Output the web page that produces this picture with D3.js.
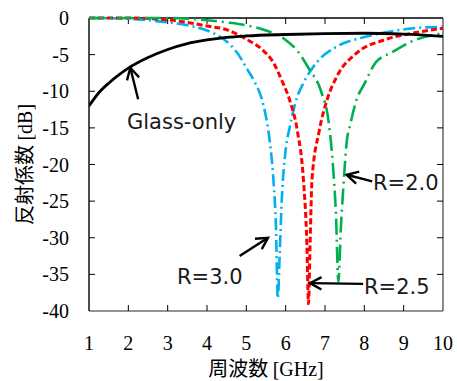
<!DOCTYPE html>
<html>
<head>
<meta charset="utf-8">
<script src="https://cdn.jsdelivr.net/npm/d3@7"></script>
<style>
  body { margin: 0; background: #fff; }
  svg { display: block; }
</style>
</head>
<body>
<svg id="chart" width="457" height="381"></svg>
<script>
const width = 457;
const height = 381;
const margin = { left: 89, right: 14, top: 18, bottom: 70 };

// frequency [GHz] / reflection [dB]
const glassFreq = [1, 1.25, 1.5, 1.75, 2, 2.5, 3, 3.5, 4, 4.5, 5, 6, 7, 8, 9, 10];
const glassDb = [-12, -10.2, -8.9, -7.8, -6.85, -5.4, -4.3, -3.5, -3.0, -2.65, -2.45, -2.25, -2.12, -2.08, -2.2, -2.5];

const r30Freq = [1, 2, 2.5, 3, 3.5, 4, 4.4, 4.6, 4.8, 5.0, 5.2, 5.4, 5.5, 5.6, 5.7, 5.75, 5.8, 5.85, 5.9, 6.0, 6.1, 6.28, 6.45, 6.8, 7.3, 8, 8.6, 9.25, 10];
const r30Db = [0, -0.1, -0.3, -0.6, -1.0, -1.7, -2.8, -3.7, -5, -6.8, -8.6, -11.2, -13.5, -17, -23, -28, -38.3, -32, -25, -18, -15, -11, -8.9, -6, -3.9, -2.6, -1.9, -1.4, -1.2];

const r25Freq = [1, 2, 3, 3.5, 4, 4.5, 5, 5.4, 5.7, 5.9, 6.1, 6.3, 6.45, 6.54, 6.58, 6.62, 6.67, 6.85, 7.05, 7.3, 7.8, 8.5, 9.2, 10];
const r25Db = [0, 0, -0.25, -0.6, -1.1, -1.6, -2.9, -4.3, -6.2, -8.5, -11.2, -15.5, -22, -31, -39, -31, -22, -15.5, -11.2, -8, -4.8, -3, -2.1, -1.4];

const r20Freq = [1, 3, 3.5, 4, 4.5, 5, 5.5, 6, 6.3, 6.6, 6.9, 7.1, 7.2, 7.28, 7.34, 7.4, 7.48, 7.55, 7.64, 7.8, 8, 8.3, 8.7, 9.2, 10];
const r20Db = [0, 0, -0.1, -0.3, -0.6, -1.0, -1.7, -3, -4.5, -7, -10, -14.5, -20, -27, -36, -29, -22, -17, -14.6, -11.2, -9, -6, -4.7, -3.2, -2.1];

const xTicks = [1, 2, 3, 4, 5, 6, 7, 8, 9, 10];
const yTicks = [0, -5, -10, -15, -20, -25, -30, -35, -40];

const series = [
    { f: r30Freq, v: r30Db, color: "#00b0f0", dash: "12,4,2,4", w: 2.6 },
    { f: r25Freq, v: r25Db, color: "#ff0000", dash: "6,3", w: 3 },
    { f: r20Freq, v: r20Db, color: "#00b050", dash: "16,5,2,5", w: 2.6 },
    { f: glassFreq, v: glassDb, color: "#000000", dash: null, w: 2.8 }
];

const svg = d3.select("#chart");

const x = d3.scaleLinear().domain([1, 10]).range([margin.left, width - margin.right]);
const y = d3.scaleLinear().domain([-40, 0]).range([height - margin.bottom, margin.top]);

const serif = "'Liberation Serif', 'Times New Roman', serif";
const gothic = "'Noto Sans CJK JP', sans-serif";
const label = "'DejaVu Sans', sans-serif";

svg.append("defs").append("clipPath")
    .attr("id", "plot-clip")
    .append("rect")
    .attr("x", margin.left)
    .attr("y", margin.top - 2)
    .attr("width", width - margin.left - margin.right)
    .attr("height", height - margin.top - margin.bottom + 2);

// frame: left/top black, bottom/right grey
const x0 = x(1), x1 = x(10), y0 = y(0), y1 = y(-40);
svg.append("line").attr("x1", x0).attr("x2", x1).attr("y1", y1).attr("y2", y1)
    .attr("stroke", "#6e6e6e").attr("stroke-width", 1.6);
svg.append("line").attr("x1", x1).attr("x2", x1).attr("y1", y0).attr("y2", y1)
    .attr("stroke", "#6e6e6e").attr("stroke-width", 1.6);
svg.append("line").attr("x1", x0).attr("x2", x1).attr("y1", y0).attr("y2", y0)
    .attr("stroke", "#000").attr("stroke-width", 1.4);
svg.append("line").attr("x1", x0).attr("x2", x0).attr("y1", y0).attr("y2", y1)
    .attr("stroke", "#000").attr("stroke-width", 1.4);

// inward ticks on all four sides
const tickLen = 6;
const innerX = xTicks.slice(1, -1);
const innerY = yTicks.slice(1, -1);
svg.append("g").selectAll("line").data(innerX).join("line")
    .attr("x1", d => x(d)).attr("x2", d => x(d))
    .attr("y1", y1).attr("y2", y1 - tickLen)
    .attr("stroke", "#000").attr("stroke-width", 1);
svg.append("g").selectAll("line").data(innerX).join("line")
    .attr("x1", d => x(d)).attr("x2", d => x(d))
    .attr("y1", y0).attr("y2", y0 + tickLen)
    .attr("stroke", "#000").attr("stroke-width", 1);
svg.append("g").selectAll("line").data(innerY).join("line")
    .attr("x1", x0).attr("x2", x0 + tickLen)
    .attr("y1", d => y(d)).attr("y2", d => y(d))
    .attr("stroke", "#000").attr("stroke-width", 1);
svg.append("g").selectAll("line").data(innerY).join("line")
    .attr("x1", x1).attr("x2", x1 - tickLen)
    .attr("y1", d => y(d)).attr("y2", d => y(d))
    .attr("stroke", "#000").attr("stroke-width", 1);

// tick labels
svg.append("g").selectAll("text").data(xTicks).join("text")
    .attr("x", d => x(d)).attr("y", 350)
    .attr("text-anchor", "middle")
    .attr("font-family", serif).attr("font-size", 20)
    .text(d => d);
svg.append("g").selectAll("text").data(yTicks).join("text")
    .attr("x", 69).attr("y", d => y(d) + 7)
    .attr("text-anchor", "end")
    .attr("font-family", serif).attr("font-size", 20)
    .text(d => d === 0 ? "0" : "-" + Math.abs(d));

// axis titles
const xTitle = svg.append("text")
    .attr("x", (x0 + x1) / 2).attr("y", 376)
    .attr("text-anchor", "middle").attr("font-size", 20);
xTitle.append("tspan").attr("font-family", gothic).text("周波数 ");
xTitle.append("tspan").attr("font-family", serif).text("[GHz]");

const yTitle = svg.append("text")
    .attr("transform", `translate(32, ${(y0 + y1) / 2}) rotate(-90)`)
    .attr("text-anchor", "middle").attr("font-size", 20);
yTitle.append("tspan").attr("font-family", gothic).text("反射係数 ");
yTitle.append("tspan").attr("font-family", serif).text("[dB]");

// curves
const line = d3.line()
    .x(d => x(d[0]))
    .y(d => y(d[1]))
    .curve(d3.curveMonotoneX);

const curves = svg.append("g").attr("clip-path", "url(#plot-clip)");
series.forEach(s => {
    curves.append("path")
        .datum(d3.zip(s.f, s.v))
        .attr("d", line)
        .attr("fill", "none")
        .attr("stroke", s.color)
        .attr("stroke-width", s.w)
        .attr("stroke-dasharray", s.dash)
        .attr("stroke-linejoin", "round");
});

// annotations: [text, text x, text y, arrow from (GHz,dB) to (GHz,dB)]
const notes = [
    { text: "Glass-only", tx: 127, ty: 129, from: [2.25, -11.1], to: [2.05, -6.8] },
    { text: "R=3.0", tx: 177, ty: 284, from: [4.83, -32.5], to: [5.55, -30.0] },
    { text: "R=2.5", tx: 364, ty: 294, from: [7.97, -36.3], to: [6.62, -36.2] },
    { text: "R=2.0", tx: 373, ty: 190, from: [8.2, -22.3], to: [7.55, -21.4] }
];

const ann = svg.append("g");
notes.forEach(n => {
    ann.append("text")
        .attr("x", n.tx).attr("y", n.ty)
        .attr("font-family", label).attr("font-size", 21)
        .attr("fill", "#1a1a1a")
        .text(n.text);
    const ax = x(n.from[0]), ay = y(n.from[1]);
    const bx = x(n.to[0]), by = y(n.to[1]);
    const ang = Math.atan2(by - ay, bx - ax);
    const head = 13, spread = 0.5;
    ann.append("line")
        .attr("x1", ax).attr("y1", ay).attr("x2", bx).attr("y2", by)
        .attr("stroke", "#000").attr("stroke-width", 2.4);
    ann.append("path")
        .attr("d", `M${bx - head * Math.cos(ang - spread)},${by - head * Math.sin(ang - spread)}` +
                   `L${bx},${by}` +
                   `L${bx - head * Math.cos(ang + spread)},${by - head * Math.sin(ang + spread)}`)
        .attr("fill", "none")
        .attr("stroke", "#000").attr("stroke-width", 2.4)
        .attr("stroke-linejoin", "miter");
});
</script>
</body>
</html>
